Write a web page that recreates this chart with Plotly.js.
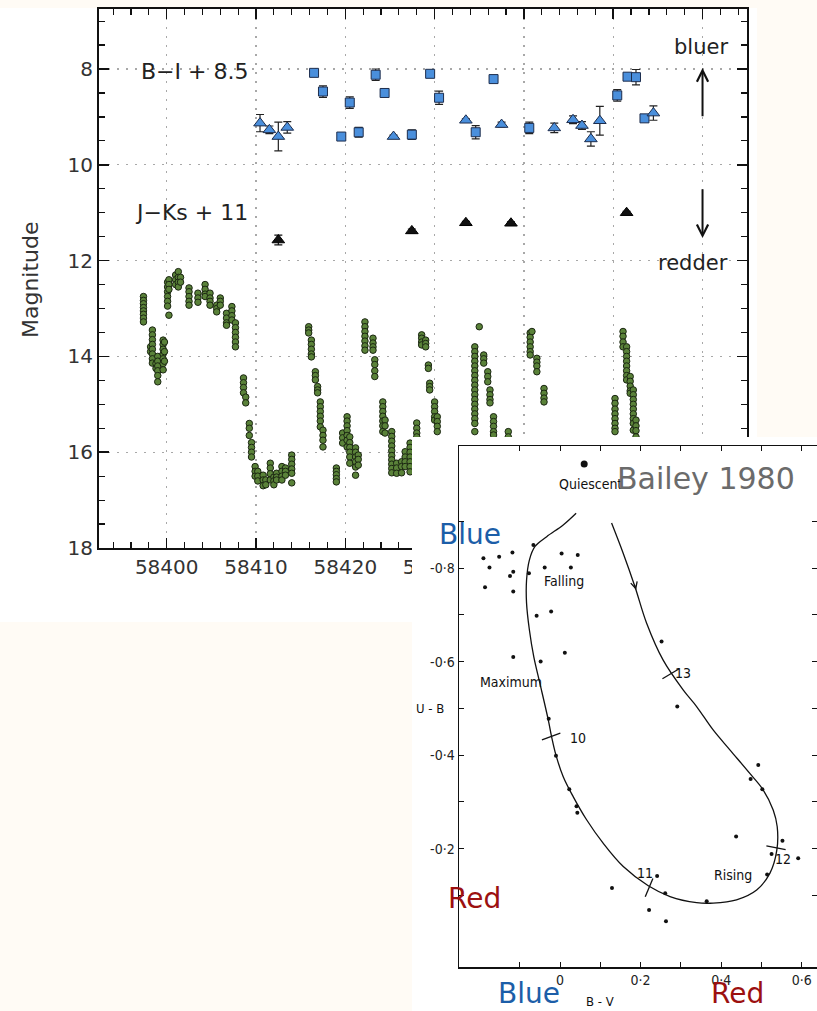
<!DOCTYPE html>
<html><head><meta charset="utf-8">
<script src="https://cdn.plot.ly/plotly-3.0.1.min.js"></script>
<style>html,body{margin:0;padding:0;background:#fffbf5;} #chart{width:817px;height:1011px;}</style>
</head><body><div id="chart"></div>
<script>
// ---------- Light curve (nights and magnitudes) ----------
const lcNight = [58397.4,58398.2,58398.4,58398.8,58399.0,58399.6,58399.75,58400.1,58400.25,58401.0,
  58401.3,58401.55,58402.5,58403.5,58404.3,58404.85,58405.6,58406.0,58406.7,58407.3,
  58407.7,58408.6,58408.85,58409.25,58409.5,58409.9,58410.2,58410.8,58411.1,58411.6,
  58412.0,58412.3,58412.9,58413.3,58414.0,58415.9,58416.2,58416.65,58416.9,58417.2,
  58417.5,58419.0,58419.7,58420.2,58420.5,58421.15,58421.45,58422.2,58423.1,58423.3,
  58424.2,58424.45,58425.2,58425.75,58426.3,58426.7,58427.25,58428.0,58428.55,58429.0,
  58429.3,58429.45,58430.0,58430.3,58434.5,58435.0,58435.5,58435.95,58436.2,58436.6,
  58438.25,58440.7,58440.9,58441.45,58442.25,58450.2,58451.1,58451.5,58451.9,58452.25,58452.55];
const lcMags = [
  [12.75,12.83,12.9,12.98,13.05,13.12,13.2,13.28],[13.8,13.9],[13.45,13.55,13.65,13.75,13.85,13.95,14.05,14.14],[14.15,14.25],
  [14.0,14.1,14.2,14.3,14.4,14.53],[13.66,13.75,13.85,13.95,14.05,14.15,14.28],[13.7,13.9,14.1],
  [12.45,12.55,12.65,12.75,12.85,12.95],[12.4,12.5,12.6,13.14],[12.3,12.4,12.5],
  [12.23,12.35,12.45,12.55],[12.35,12.45],[12.57,12.65,12.75,12.85,12.93],[12.68,12.78,12.87],
  [12.5,12.6,12.7,12.75],[12.68,12.78,12.85,12.93],[12.93,13.0,13.07],[12.78,12.85,12.93],
  [13.1,13.2,13.3,13.35],[12.96,13.05,13.15,13.24],
  [13.3,13.4,13.5,13.6,13.7,13.8],[14.45,14.55,14.65,14.76],[14.85,14.97],[15.4,15.5,15.65],
  [15.8,15.9,16.0,16.1],[16.3,16.4,16.5],[16.4,16.5,16.6],[16.48,16.58,16.7],[16.58,16.68],
  [16.23,16.33,16.45,16.58],
  [16.52,16.6,16.68],[16.44,16.52,16.58],[16.3,16.4,16.5,16.58],[16.33,16.4,16.48],
  [16.06,16.15,16.25,16.35,16.44,16.64],[13.38,13.45,13.51],[13.66,13.75,13.85,13.95,14.01],
  [14.32,14.4,14.49],[14.63,14.7,14.76],[14.95,15.05,15.15,15.25,15.35,15.47],
  [15.54,15.65,15.75,15.89],[16.33,16.4,16.47,16.55,16.62],[15.6,15.7,15.81],
  [15.26,15.35,15.45,15.55,15.65,15.75,15.89],[15.68,15.8,15.9,16.0,16.1,16.23],
  [15.91,16.0,16.1,16.2,16.31,16.48],[16.06,16.15,16.27],[13.28,13.38,13.48,13.58,13.68,13.78,13.87],
  [13.62,13.72,13.8,13.87],[14.07,14.17,14.3,14.42],
  [14.95,15.05,15.15,15.25,15.35,15.45,15.57],[15.33,15.45,15.6],
  [15.57,15.67,15.77,15.87,15.97,16.07,16.16,16.25,16.34,16.43],[16.23,16.33,16.44],[16.2,16.3,16.43],
  [15.99,16.1,16.2,16.3],[15.81,15.9,16.0,16.1,16.2,16.3,16.41],[15.39,15.5,15.6,15.68],
  [13.55,13.62,13.7,13.76],[13.66,13.73,13.8],
  [14.18,14.25],[14.56,14.63,14.7],[14.95,15.05,15.15,15.26,15.33],[15.26,15.36,15.46,15.57],
  [13.8,13.9,14.0,14.1,14.2,14.3,14.4,14.5,14.6,14.7,14.8,14.9,15.0,15.1,15.2,15.3,15.4,15.57],
  [13.38],[13.97,14.05,14.14],[14.32,14.42,14.53],[14.7,14.8,14.9,14.97],[15.26,15.36,15.46,15.57,15.64],
  [15.57,15.68],[13.51,13.6,13.7,13.8,13.9,13.97],[13.48],[14.04,14.12,14.2,14.32],[14.67,14.77,14.87,14.95],
  [14.88,14.98,15.1,15.2,15.3,15.4,15.5,15.57],[13.48,13.58,13.7,13.8],
  [13.8,13.9,14.0,14.1,14.2,14.3,14.4,14.49],[14.42,14.52,14.62,14.72,14.77],
  [14.7,14.8,14.9,15.0,15.1,15.2,15.3,15.4,15.54],[15.33,15.45,15.55,15.68]];

// ---------- Colour indices ----------
const biSqDay = [58416.5,58417.5,58419.55,58420.5,58421.5,58423.4,58424.4,58427.45,58429.5,58430.5,58434.6,58436.6,58440.6,58450.45,58451.6,58452.55,58453.5];
const biSqVal = [8.08,8.47,9.41,8.70,9.32,8.12,8.50,9.37,8.10,8.60,9.32,8.21,9.23,8.55,8.16,8.17,9.03];
const biSqErr = [0.05,0.12,0.06,0.12,0.10,0.12,0.05,0.10,0.05,0.14,0.14,0.05,0.12,0.12,0.05,0.16,0.05];
const biTriDay = [58410.45,58411.5,58412.5,58413.5,58425.4,58433.5,58437.5,58443.4,58445.5,58446.5,58447.5,58448.5,58454.5];
const biTriVal = [9.13,9.27,9.41,9.22,9.41,9.07,9.16,9.23,9.06,9.18,9.46,9.08,8.92];
const biTriErr = [0.18,0.08,0.30,0.12,0.03,0.03,0.05,0.10,0.08,0.08,0.15,0.30,0.15];
const jkDay = [58412.5,58427.45,58433.5,58438.55,58451.5];
const jkVal = [11.57,11.38,11.21,11.22,11.00];
const jkErr = [0.10,0.04,0.03,0.03,0.03];

// ---------- Bailey 1980 inset (B-V, U-B) ----------
const curveBV = [0.040,0.008,-0.033,-0.062,-0.076,-0.083,-0.083,-0.076,-0.065,-0.050,-0.029,-0.021,-0.010,0.008,0.033,0.066,0.107,0.157,0.219,0.273,0.339,0.380,0.438,0.488,0.521,0.538,0.539,0.529,0.504,0.471,0.422,0.380,0.339,0.306,0.256,0.215,0.186,0.157,0.128];
const curveUB = [-0.917,-0.892,-0.867,-0.846,-0.817,-0.774,-0.725,-0.668,-0.610,-0.554,-0.475,-0.440,-0.400,-0.354,-0.311,-0.262,-0.212,-0.162,-0.121,-0.098,-0.085,-0.084,-0.091,-0.112,-0.148,-0.197,-0.247,-0.283,-0.326,-0.361,-0.411,-0.454,-0.504,-0.539,-0.603,-0.682,-0.760,-0.831,-0.896];
const dotBV = [-0.190,-0.175,-0.151,-0.118,-0.116,-0.124,-0.186,-0.116,-0.066,-0.077,-0.038,0.004,0.044,0.027,-0.058,-0.022,-0.116,-0.048,0.012,0.252,0.291,-0.028,-0.010,0.023,0.041,0.043,0.492,0.473,0.502,0.437,0.552,0.525,0.591,0.514,0.241,0.129,0.261,0.364,0.221,0.263];
const dotUB = [-0.821,-0.801,-0.824,-0.833,-0.792,-0.783,-0.759,-0.750,-0.849,-0.789,-0.801,-0.831,-0.828,-0.801,-0.698,-0.707,-0.610,-0.600,-0.619,-0.643,-0.504,-0.478,-0.399,-0.327,-0.291,-0.277,-0.379,-0.349,-0.327,-0.226,-0.217,-0.189,-0.180,-0.145,-0.142,-0.116,-0.105,-0.088,-0.069,-0.045];
const quiescentBV = [0.060];
const quiescentUB = [-1.022];
const phaseLabel = ['10','11','12','13'];
const phaseBV = [-0.022,0.221,0.536,0.275];
const phaseUB = [-0.440,-0.117,-0.202,-0.574];
const phaseTextBV = [0.045,0.211,0.553,0.306];
const phaseTextUB = [-0.437,-0.148,-0.178,-0.576];
const stageLabel = ['Quiescent','Falling','Maximum','Rising'];
const stageBV = [0.076,0.010,-0.121,0.430];
const stageUB = [-0.979,-0.773,-0.557,-0.143];
const insetXTicks = [-0.1,0,0.1,0.2,0.3,0.4,0.5,0.6];
const insetXText = ['','0','','0·2','','0·4','','0·6'];
const insetYTicks = [-0.9,-0.8,-0.7,-0.6,-0.5,-0.4,-0.3,-0.2,-0.1];
const insetYText = ['','-0·8','','-0·6','','-0·4','','-0·2',''];

// ---------- build ----------
const W = 817, H = 1011;
const px = v => v / W;
const py = v => 1 - v / H;
const lcX = [], lcY = [];
lcNight.forEach((d, i) => lcMags[i].forEach(m => { lcX.push(d); lcY.push(m); }));

const narrow = 'Liberation Sans Narrow, Arial Narrow, DejaVu Sans Condensed, sans-serif';
const sans = 'DejaVu Sans, sans-serif';
const blueFill = '#4a8fdc', navy = '#1d2d4d';

const traces = [
  {type:'scatter', mode:'markers', x: lcX, y: lcY, xaxis:'x', yaxis:'y', hoverinfo:'skip',
   marker:{size:6.5, color:'#5a8239', line:{color:'#1b2612', width:1}}},
  {type:'scatter', mode:'markers', x: biSqDay, y: biSqVal, xaxis:'x', yaxis:'y',
   error_y:{type:'data', array: biSqErr, color:'#222', thickness:1.2, width:4},
   marker:{symbol:'square', size:9, color: blueFill, line:{color: navy, width:1}}},
  {type:'scatter', mode:'markers', x: biTriDay, y: biTriVal, xaxis:'x', yaxis:'y',
   error_y:{type:'data', array: biTriErr, color:'#222', thickness:1.2, width:4},
   marker:{symbol:'triangle-up', size:11, color: blueFill, line:{color: navy, width:1}}},
  {type:'scatter', mode:'markers', x: jkDay, y: jkVal, xaxis:'x', yaxis:'y',
   error_y:{type:'data', array: jkErr, color:'#111', thickness:1.2, width:4},
   marker:{symbol:'triangle-up', size:11, color:'#111', line:{color:'#000', width:1}}},
  {type:'scatter', mode:'text', x:[58427.65], y:[19.2], xaxis:'x', yaxis:'y', text:['BJD−2400000'],
   cliponaxis:false, hoverinfo:'skip', textposition:'middle center', textfont:{family: sans, size:23, color:'#333'}},
  {type:'scatter', mode:'markers', x:[0.5], y:[0.5], xaxis:'x2', yaxis:'y2', hoverinfo:'skip',
   marker:{size:1, opacity:0}},
  {type:'scatter', mode:'lines', x: curveBV, y: curveUB, xaxis:'x3', yaxis:'y3', hoverinfo:'skip',
   line:{shape:'spline', smoothing:1, color:'#111', width:1.3}},
  {type:'scatter', mode:'markers', x: dotBV, y: dotUB, xaxis:'x3', yaxis:'y3',
   marker:{size:4, color:'#111'}},
  {type:'scatter', mode:'markers', x: quiescentBV, y: quiescentUB, xaxis:'x3', yaxis:'y3',
   marker:{size:7, color:'#111'}},
  {type:'scatter', mode:'markers', x: phaseBV, y: phaseUB, xaxis:'x3', yaxis:'y3', hoverinfo:'skip',
   marker:{symbol:'line-ns', size:14, angle:[70,23,101,59], line:{color:'#111', width:1.3}}}
];

const ann = [];
const addText = (o) => ann.push(Object.assign({showarrow:false, xanchor:'center', yanchor:'middle', borderpad:0}, o));
addText({xref:'x', yref:'y', x:58397.0, y:8.06, xanchor:'left', text:'B−I + 8.5', font:{family:sans, size:22, color:'#222'}});
addText({xref:'x', yref:'y', x:58396.34, y:11.0, xanchor:'left', text:'J−Ks + 11', font:{family:sans, size:22, color:'#222'}});
addText({xref:'x', yref:'y', x:58462.95, y:7.54, xanchor:'right', text:'bluer', font:{family:sans, size:21, color:'#222'}});
addText({xref:'x', yref:'y', x:58462.95, y:12.05, xanchor:'right', text:'redder', font:{family:sans, size:21, color:'#222'}});
ann.push({xref:'x', yref:'y', axref:'x', ayref:'y', x:58460, y:7.98, ax:58460, ay:9.02, text:'', showarrow:true,
  arrowhead:5, arrowsize:1.1, arrowwidth:2, arrowcolor:'#111'});
ann.push({xref:'x', yref:'y', axref:'x', ayref:'y', x:58460, y:11.53, ax:58460, ay:10.48, text:'', showarrow:true,
  arrowhead:5, arrowsize:1.1, arrowwidth:2, arrowcolor:'#111'});
addText({xref:'paper', yref:'paper', x:px(30), y:py(280), textangle:-90, text:'Magnitude', font:{family:sans, size:22, color:'#333'}});
stageLabel.forEach((t,i) => addText({xref:'x3', yref:'y3', x:stageBV[i], y:stageUB[i], text:t, font:{family:narrow, size:14, color:'#111'}}));
phaseLabel.forEach((t,i) => addText({xref:'x3', yref:'y3', x:phaseTextBV[i], y:phaseTextUB[i], text:t, font:{family:narrow, size:14, color:'#111'}}));
ann.push({xref:'x3', yref:'y3', x:0.189, y:-0.753, ax:-2, ay:-7, text:'', showarrow:true, arrowhead:5, arrowsize:1.3, arrowwidth:1, arrowcolor:'#111', standoff:0});
addText({xref:'paper', yref:'paper', x:px(706), y:py(479), text:'Bailey 1980', font:{family:sans, size:30, color:'#6b6b6b'}});
addText({xref:'paper', yref:'paper', x:px(470), y:py(534), text:'Blue', font:{family:sans, size:28, color:'#1c5ea8'}});
addText({xref:'paper', yref:'paper', x:px(474), y:py(898), text:'Red', font:{family:sans, size:28, color:'#9c1010'}});
addText({xref:'paper', yref:'paper', x:px(529), y:py(993), text:'Blue', font:{family:sans, size:28, color:'#1c5ea8'}});
addText({xref:'paper', yref:'paper', x:px(737), y:py(993), text:'Red', font:{family:sans, size:28, color:'#9c1010'}});
addText({xref:'paper', yref:'paper', x:px(600), y:py(1001), text:'B - V', font:{family:narrow, size:13, color:'#111'}});
addText({xref:'paper', yref:'paper', x:px(430), y:py(708), text:'U - B', font:{family:narrow, size:13, color:'#111'}});

const grid = {showgrid:true, gridcolor:'#a8a8a8', griddash:'2px,7px', gridwidth:1.2};
const layout = {
  width: W, height: H, margin:{l:0, r:0, t:0, b:0},
  paper_bgcolor:'#fffbf5', plot_bgcolor:'#ffffff', showlegend:false,
  font:{family: sans, color:'#222'},
  shapes:[{type:'rect', xref:'paper', yref:'paper', x0:0, x1:px(757), y0:py(622), y1:py(8),
    fillcolor:'#ffffff', line:{width:0}, layer:'below'}],
  xaxis:Object.assign({domain:[px(99), px(747)], range:[58392.42, 58464.98], anchor:'y', tickmode:'linear', tick0:58400, dtick:10,
    tickformat:'d', ticks:'inside', ticklen:10, tickwidth:1.5, tickcolor:'#111', showline:true, linecolor:'#111', linewidth:2,
    mirror:'allticks', zeroline:false,
    tickfont:{family:sans, size:20, color:'#333'},
    minor:{tickmode:'linear', tick0:58400, dtick:2, ticks:'inside', ticklen:6, tickwidth:1.2, tickcolor:'#111', showgrid:false}}, grid),
  yaxis:Object.assign({domain:[py(548), py(9)], range:[18, 6.747], anchor:'x', tickmode:'linear', tick0:0, dtick:2,
    ticks:'inside', ticklen:10, tickwidth:1.5, tickcolor:'#111', showline:true, linecolor:'#111', linewidth:2,
    mirror:'allticks', zeroline:false,
    tickfont:{family:sans, size:20, color:'#333'},
    minor:{tickmode:'linear', tick0:0, dtick:0.5, ticks:'inside', ticklen:6, tickwidth:1.2, tickcolor:'#111', showgrid:false}}, grid),
  xaxis2:{domain:[px(412), 1], range:[0,1], anchor:'y2', visible:false},
  yaxis2:{domain:[0, py(437)], range:[0,1], anchor:'x2', visible:false},
  xaxis3:{domain:[px(459), 1], range:[-0.2506, 0.6377], anchor:'y3', tickmode:'array', tickvals: insetXTicks, ticktext: insetXText,
    ticks:'inside', ticklen:5, tickwidth:1, tickcolor:'#111', showline:true, linecolor:'#111', linewidth:1.5, mirror:'allticks',
    showgrid:false, zeroline:false, tickfont:{family:narrow, size:14, color:'#222'}},
  yaxis3:{domain:[py(967), py(446)], range:[0.0526, -1.0607], anchor:'x3', tickmode:'array', tickvals: insetYTicks, ticktext: insetYText,
    ticks:'inside', ticklen:5, tickwidth:1, tickcolor:'#111', showline:true, linecolor:'#111', linewidth:1.5, mirror:'allticks',
    showgrid:false, zeroline:false, tickfont:{family:narrow, size:14, color:'#222'}},
  annotations: ann
};

Plotly.newPlot('chart', traces, layout, {displayModeBar:false, staticPlot:true});
</script></body></html>
